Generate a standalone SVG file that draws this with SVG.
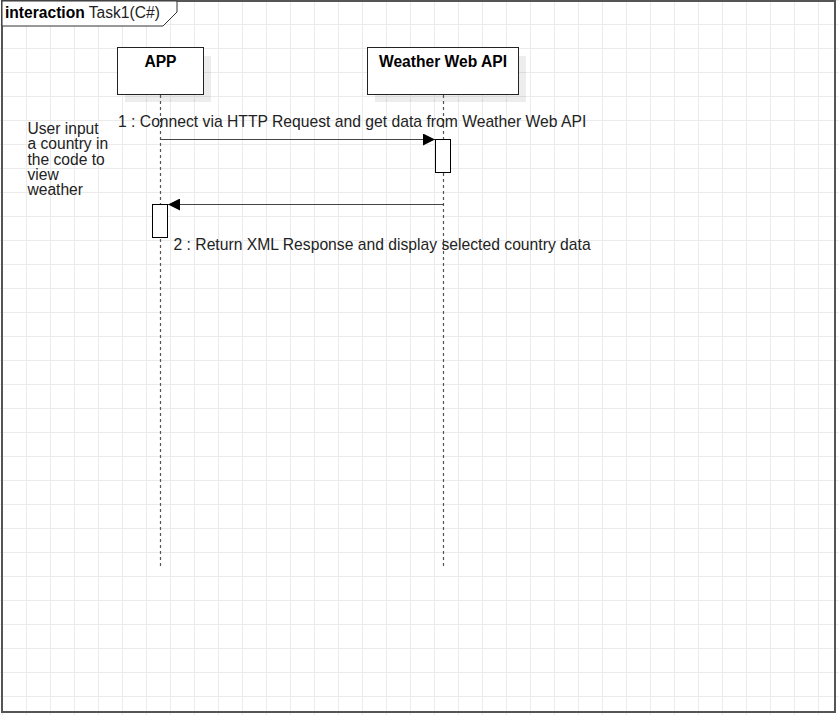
<svg xmlns="http://www.w3.org/2000/svg" width="839" height="715" viewBox="0 0 839 715">
<defs>
<pattern id="grid" patternUnits="userSpaceOnUse" x="2" y="0" width="24" height="24">
<path d="M0.5 0V24M0 0.5H24" stroke="#ebebeb" stroke-width="1" fill="none"/>
</pattern>
<marker id="arrow" markerWidth="12" markerHeight="12" refX="12" refY="6" orient="auto" markerUnits="userSpaceOnUse">
<path d="M0 0L12 6L0 12Z" fill="#000"/>
</marker>
<style>
text{font-family:"Liberation Sans",Arial,sans-serif;font-size:15.6px;fill:#222}
.m{font-size:15.7px}
.b{font-weight:bold;fill:#000}
.box{fill:#fff;stroke:#222;stroke-width:1}
.shadow{fill:#000;fill-opacity:0.07}
.life{stroke:#555;stroke-width:1.2;stroke-dasharray:3 3;fill:none}
.act{fill:#fff;stroke:#000;stroke-width:1}
.msg{stroke:#444;stroke-width:1.2;fill:none}
</style>
</defs>
<rect x="0" y="0" width="839" height="715" fill="#fff"/>
<rect x="0" y="0" width="839" height="715" fill="url(#grid)"/>
<g id="frame">
<rect x="2" y="1" width="833" height="711" fill="none" stroke="#555" stroke-width="2"/>
<path d="M2 1H177V12L163 26H2Z" fill="#fff" stroke="#333" stroke-width="1"/>
<text x="5" y="18"><tspan class="b">interaction</tspan> Task1(C#)</text>
</g>
<g id="app">
<rect class="shadow" x="125" y="56" width="86" height="46"/>
<rect class="box" x="117.5" y="47.5" width="86" height="47"/>
<text class="b" x="160.5" y="67" text-anchor="middle">APP</text>
<line class="life" x1="160.5" y1="95" x2="160.5" y2="566"/>
<rect class="act" x="152.5" y="204.5" width="15" height="33"/>
</g>
<g id="weather">
<rect class="shadow" x="375" y="56" width="151" height="46"/>
<rect class="box" x="367.5" y="47.5" width="151" height="47"/>
<text class="b" x="443" y="67" text-anchor="middle">Weather Web API</text>
<line class="life" x1="443.5" y1="95" x2="443.5" y2="566"/>
<rect class="act" x="435.5" y="139.5" width="15" height="33"/>
</g>
<g id="note">
<text x="27.5" y="133.5"><tspan x="27.5" y="133.5">User input</tspan><tspan x="27.5" y="149">a country in</tspan><tspan x="27.5" y="164.5">the code to</tspan><tspan x="27.5" y="180">view</tspan><tspan x="27.5" y="195">weather</tspan></text>
</g>
<g id="connectors">
<line class="msg" x1="160.5" y1="139.5" x2="435" y2="139.5" marker-end="url(#arrow)"/>
<text class="m" x="118" y="127">1 : Connect via HTTP Request and get data from Weather Web API</text>
<line class="msg" x1="443.5" y1="204.5" x2="168" y2="204.5" marker-end="url(#arrow)"/>
<text class="m" x="173.5" y="249.5">2 : Return XML Response and display selected country data</text>
</g>
</svg>
